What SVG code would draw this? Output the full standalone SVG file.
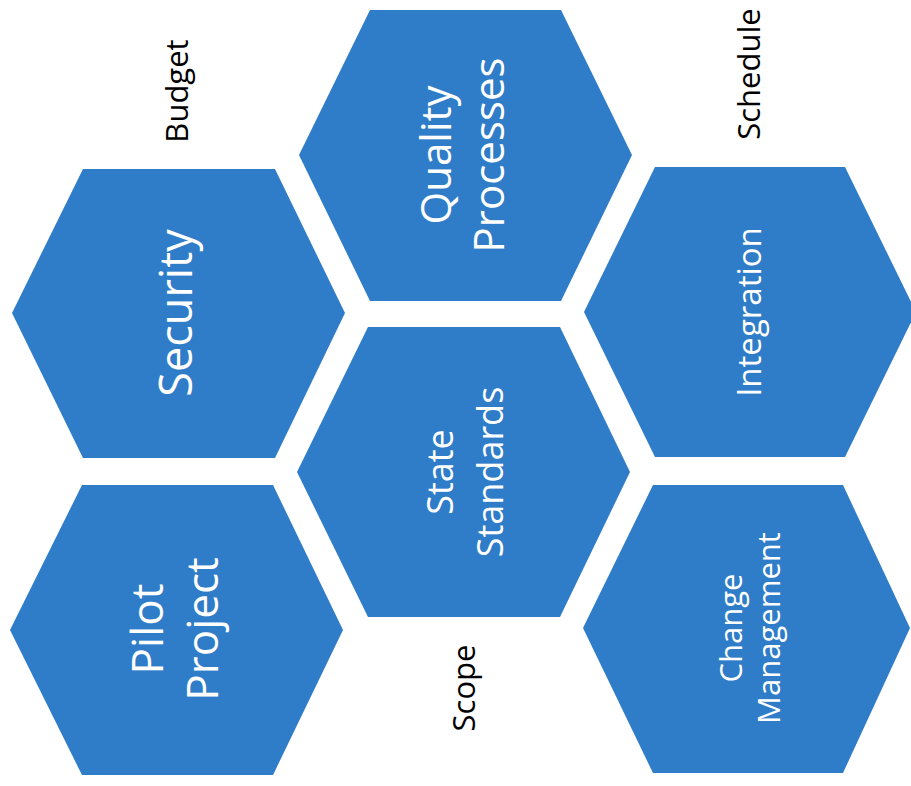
<svg xmlns="http://www.w3.org/2000/svg" width="911" height="786" viewBox="0 0 911 786">
<style>
.hex{fill:#2F7CC9;}
.lbl{font-family:"Open Sans","Noto Sans","DejaVu Sans",sans-serif;fill:#FFFFFF;text-anchor:middle;}
.side{font-family:"Open Sans","Noto Sans","DejaVu Sans",sans-serif;fill:#000000;text-anchor:middle;font-size:31px;}
</style>
<rect width="911" height="786" fill="#FFFFFF"/>
<g id="connectors"></g>
<g id="security">
<polygon class="hex" points="83,169 275,169 345,313 275,458 83,458 12,313"/>
<text class="lbl" font-size="45" transform="translate(192,313) rotate(-90)">Security</text>
</g>
<g id="quality-processes">
<polygon class="hex" points="370,10 561,10 632,155 561,301 370,301 299,155"/>
<text class="lbl" font-size="42" transform="translate(451,155) rotate(-90)">Quality</text>
<text class="lbl" font-size="42" transform="translate(504,155) rotate(-90)">Processes</text>
</g>
<g id="integration">
<polygon class="hex" points="655,167 845,167 916,312 845,457 655,457 584,312"/>
<text class="lbl" font-size="33" transform="translate(761,312) rotate(-90)">Integration</text>
</g>
<g id="pilot-project">
<polygon class="hex" points="82,485 273,485 343,630 273,775 82,775 10,630"/>
<text class="lbl" font-size="44" transform="translate(163,629) rotate(-90)">Pilot</text>
<text class="lbl" font-size="44" transform="translate(218,629) rotate(-90)">Project</text>
</g>
<g id="state-standards">
<polygon class="hex" points="368,327 560,327 630,472 560,617 368,617 297,472"/>
<text class="lbl" font-size="36" transform="translate(453,472) rotate(-90)">State</text>
<text class="lbl" font-size="36" transform="translate(503,472) rotate(-90)">Standards</text>
</g>
<g id="change-management">
<polygon class="hex" points="653,485 843,485 910,628 843,773 653,773 583,628"/>
<text class="lbl" font-size="31" transform="translate(742,628) rotate(-90)">Change</text>
<text class="lbl" font-size="31" transform="translate(780,628) rotate(-90)">Management</text>
</g>
<g id="budget">
<text class="side" transform="translate(188,91) rotate(-90)">Budget</text>
</g>
<g id="schedule">
<text class="side" transform="translate(760,74) rotate(-90)">Schedule</text>
</g>
<g id="scope">
<text class="side" font-size="32" transform="translate(475,688) rotate(-90)">Scope</text>
</g>
</svg>
